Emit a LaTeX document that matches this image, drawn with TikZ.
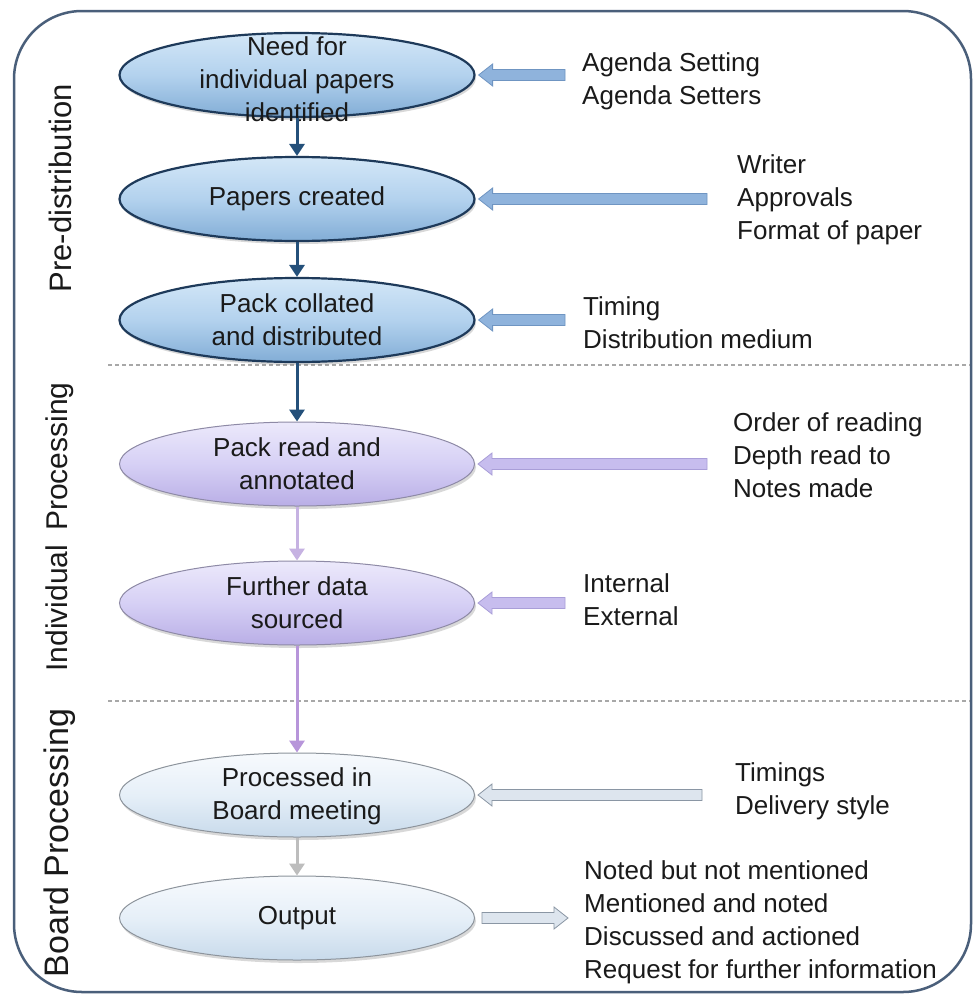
\documentclass[tikz,border=0pt]{standalone}
\usepackage{fontspec}
\setmainfont{Liberation Sans}
\usetikzlibrary{shapes.geometric,arrows.meta,calc,shadows}
\definecolor{txt}{HTML}{1A1A1A}
\definecolor{framec}{HTML}{4A5F7A}
\definecolor{navy}{HTML}{1E3A5A}
\definecolor{bluetop}{HTML}{D3E7F7}
\definecolor{bluemid}{HTML}{B3D2EE}
\definecolor{bluebot}{HTML}{82ADD6}
\definecolor{lavtop}{HTML}{ECE9FB}
\definecolor{lavmid}{HTML}{D6D0F5}
\definecolor{lavbot}{HTML}{B9AEE6}
\definecolor{lavline}{HTML}{8E8AA6}
\definecolor{lighttop}{HTML}{F7FAFD}
\definecolor{lightmid}{HTML}{E6EFF8}
\definecolor{lightbot}{HTML}{C8DAEB}
\definecolor{lightline}{HTML}{8D949C}
\definecolor{darrow}{HTML}{24507A}
\definecolor{larrow}{HTML}{C6B2E2}
\definecolor{parrow}{HTML}{B795DA}
\definecolor{garrow}{HTML}{BDBDBD}
\definecolor{bafill}{HTML}{8FB3DC}
\definecolor{badraw}{HTML}{6F95C2}
\definecolor{lafill}{HTML}{C7BDEE}
\definecolor{ladraw}{HTML}{A99ED8}
\definecolor{gafill}{HTML}{DDE5EE}
\definecolor{gadraw}{HTML}{8A96A4}
\definecolor{dashc}{HTML}{A8A8A8}
\newcommand{\blkleft}[4]{%
  \draw[#4] let \p1=(#1.east), \p2=(#2.west) in
    (\x1+3pt,\y1) -- ++(14pt,11pt) -- ++(0pt,-5.5pt) -- (\x2-#3,\y1+5.5pt)
    -- (\x2-#3,\y1-5.5pt) -- (\x1+17pt,\y1-5.5pt) -- ++(0pt,-5.5pt) -- cycle;}
\newcommand{\blkright}[4]{%
  \draw[#4] let \p1=(#1.east), \p2=(#2.west) in
    (\x2-#3,\y1) -- ++(-14pt,11pt) -- ++(0pt,-5.5pt) -- (\x1+7pt,\y1+5.5pt)
    -- (\x1+7pt,\y1-5.5pt) -- (\x2-#3-14pt,\y1-5.5pt) -- ++(0pt,-5.5pt) -- cycle;}
\begin{document}
\begin{tikzpicture}[x=1pt,y=-1pt,
  ellbase/.style={ellipse, minimum width=355pt, minimum height=84pt, inner sep=0pt,
    drop shadow={opacity=0.3, shadow xshift=1.5pt, shadow yshift=-3pt}},
  ellblue/.style={ellbase, draw=navy, line width=2.2pt, top color=bluetop, bottom color=bluebot, middle color=bluemid},
  elllav/.style={ellbase, draw=lavline, line width=1pt, top color=lavtop, bottom color=lavbot, middle color=lavmid},
  elllight/.style={ellbase, draw=lightline, line width=1pt, top color=lighttop, bottom color=lightbot, middle color=lightmid},
  etext/.style={align=center, font=\fontsize{26}{33}\selectfont, text=txt, inner sep=0pt},
  rtext/.style={align=left, anchor=west, font=\fontsize{26}{33}\selectfont, text=txt, inner sep=0pt},
  sidelab/.style={rotate=90, text=txt, inner sep=0pt},
  varrow/.style={line width=3pt, -{Triangle[length=12pt,width=15pt]}},
  bablue/.style={fill=bafill, draw=badraw, line width=0.8pt},
  balav/.style={fill=lafill, draw=ladraw, line width=0.8pt},
  bagrey/.style={fill=gafill, draw=gadraw, line width=0.8pt},
  sep/.style={dashc, line width=1.2pt, dash pattern=on 4pt off 3pt}
]
\useasboundingbox (0,0) rectangle (972,996);
\fill[white] (0,0) rectangle (972,996);

% frame
\draw[framec, line width=2.5pt, rounded corners=68pt] (14,11) rectangle (971,992);

% separators
\draw[sep] (108,365) -- (970,365);
\draw[sep] (108,701) -- (970,701);

% side labels
\node[sidelab, font=\fontsize{31}{36}\selectfont] (s1) at (60,188) {Pre-distribution};
\node[sidelab, font=\fontsize{30}{36}\selectfont] (s2) at (60,527) {Individual\hspace{14pt}Processing};
\node[sidelab, font=\fontsize{34}{40}\selectfont] (s3) at (60,843) {Board Processing};

% ellipses
\node[ellblue] (e1) at (297,75) {};
\node[ellblue] (e2) at (297,199) {};
\node[ellblue] (e3) at (297,320) {};
\node[elllav] (e4) at (297,464) {};
\node[elllav] (e5) at (297,603) {};
\node[elllight] (e6) at (297,795) {};
\node[elllight] (e7) at (297,918) {};

\node[etext] (x1) at (297,79) {Need for\\individual papers\\identified};
\node[etext] (x2) at (297,199) {Papers created};
\node[etext] (x3) at (297,320) {Pack collated\\and distributed};
\node[etext] (x4) at (297,464) {Pack read and\\annotated};
\node[etext] (x5) at (297,603) {Further data\\sourced};
\node[etext] (x6) at (297,796) {Processed in\\Board meeting};
\node[etext] (x7) at (297,918) {Output};

% vertical arrows
\draw[varrow, darrow] (e1.south) -- (e2.north);
\draw[varrow, darrow] (e2.south) -- (e3.north);
\draw[varrow, darrow] (e3.south) -- (e4.north);
\draw[varrow, larrow] (e4.south) -- (e5.north);
\draw[varrow, parrow] (e5.south) -- (e6.north);
\draw[varrow, garrow] (e6.south) -- (e7.north);

% right texts
\node[rtext] (t1) at (582,81) {Agenda Setting\\Agenda Setters};
\node[rtext] (t2) at (737,200) {Writer\\Approvals\\Format of paper};
\node[rtext] (t3) at (583,323) {Timing\\Distribution medium};
\node[rtext] (t4) at (733,455) {Order of reading\\Depth read to\\Notes made};
\node[rtext] (t5) at (583,600) {Internal\\External};
\node[rtext] (t6) at (735,791) {Timings\\Delivery style};
\node[rtext] (t7) at (584,922) {Noted but not mentioned\\Mentioned and noted\\Discussed and actioned\\Request for further information};

% block arrows
\blkleft{e1}{t1}{17pt}{bablue}
\blkleft{e2}{t2}{30pt}{bablue}
\blkleft{e3}{t3}{18pt}{bablue}
\blkleft{e4}{t4}{26pt}{balav}
\blkleft{e5}{t5}{18pt}{balav}
\blkleft{e6}{t6}{33pt}{bagrey}
\blkright{e7}{t7}{16pt}{bagrey}
\end{tikzpicture}
\end{document}
